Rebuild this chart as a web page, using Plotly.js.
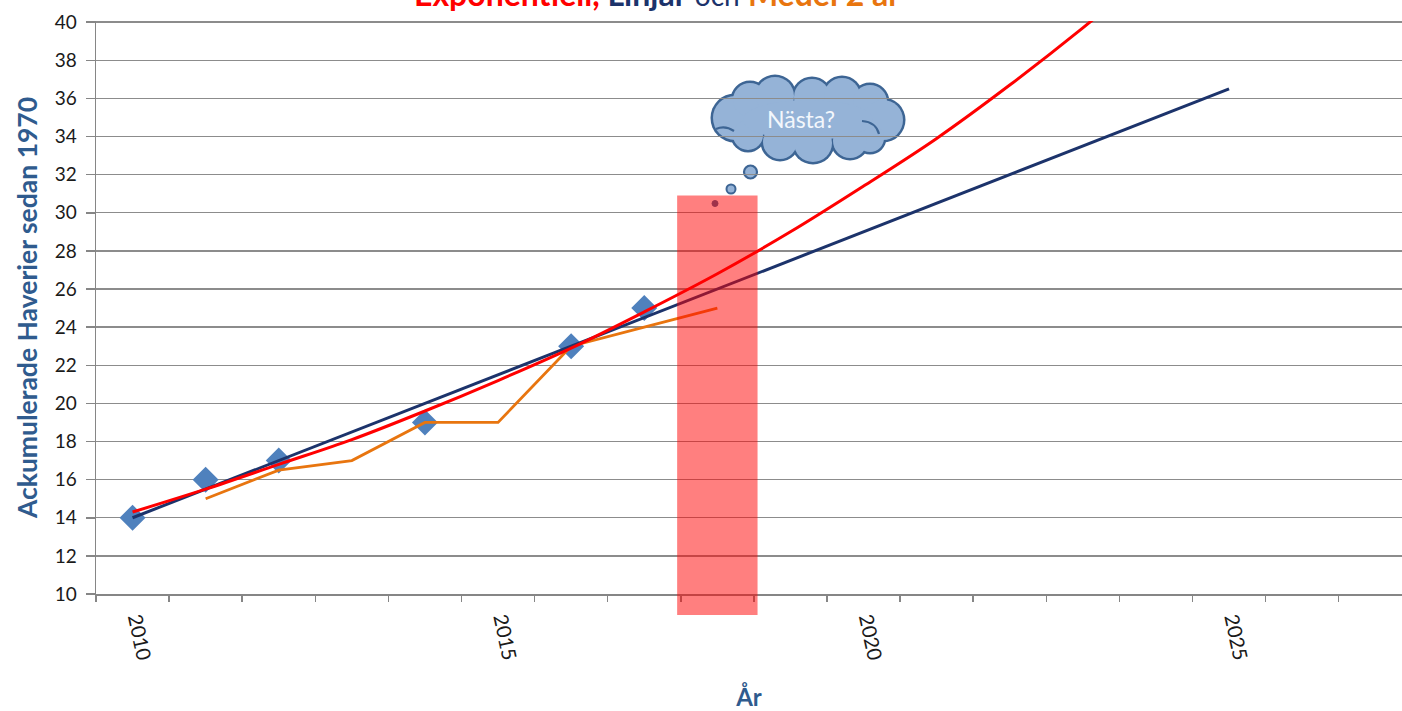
<!DOCTYPE html>
<html>
<head>
<meta charset="utf-8">
<script src="https://cdn.plot.ly/plotly-3.0.1.min.js"></script>
<style>
  html, body { margin: 0; padding: 0; background: #ffffff; }
  #chart { width: 1402px; height: 711px; }
</style>
</head>
<body>
<div id="chart"></div>
<script>
// ---- data ----
const OBS_YEARS = [2010, 2011, 2012, 2014, 2016, 2017];
const OBS_VALUES = [14, 16, 17, 19, 23, 25];

const AVG_YEARS = [2011, 2012, 2013, 2014, 2015, 2016, 2017, 2018];
const AVG_VALUES = [15, 16.5, 17, 19, 19, 23, 24, 25];

const LIN_YEARS = [2010, 2025];
const LIN_VALUES = [14.0, 36.5];

const EXP_YEARS = [2010, 2011, 2012, 2013, 2014, 2015, 2016, 2017, 2018, 2019, 2020, 2021, 2022, 2023, 2024];
const EXP_VALUES = [14.3, 15.5, 16.8, 18.1, 19.6, 21.2, 22.9, 24.8, 26.8, 29.0, 31.4, 33.9, 36.7, 39.7, 42.9];

const NEXT_YEAR = [2018];
const NEXT_TOP = [30.9];
const NEXT_BASE = [8.9];
const NEXT_WIDTH = 1.1;

const X_TICK_VALUES = [2010, 2015, 2020, 2025];
const X_TICK_LABELS = ['2010', '2015', '2020', '2025'];

const TITLE_PARTS = ['Exponentiell,', 'Linjär', 'och', 'Medel 2 år'];
const CLOUD_TEXT = 'Nästa?';
const Y_TITLE = 'Ackumulerade Haverier sedan 1970';
const X_TITLE = 'År';

// ---- geometry helpers (pixel -> axis units) for the decorative cloud ----
const M = { l: 96, r: 0, t: 21, b: 117 };
const W = 1402, H = 711;
const PLOT_W = W - M.l - M.r, PLOT_H = H - M.t - M.b;
const X0 = 2009.5, PX_PER_YEAR = 73.1;
const X1 = X0 + PLOT_W / PX_PER_YEAR;
const Y_MIN = 10, Y_MAX = 40.06;
function gx(px) { return X0 + (px - M.l) / PX_PER_YEAR; }
function gy(py) { return Y_MAX - (py - M.t) * (Y_MAX - Y_MIN) / PLOT_H; }
function paperY(v) { return (v - Y_MIN) / (Y_MAX - Y_MIN); }

const CLOUD_FILL = '#95B3D7';
const CLOUD_LINE = '#3D6594';

function circle(cx, cy, r, fill, lineColor, lineWidth) {
  return {
    type: 'circle', xref: 'x', yref: 'y', layer: 'below',
    x0: gx(cx - r), x1: gx(cx + r), y0: gy(cy + r), y1: gy(cy - r),
    fillcolor: fill,
    line: { color: lineColor || fill, width: lineWidth || 0 }
  };
}

const puffs = [
  [735, 118, 22], [750, 100, 17], [775, 96, 19], [812, 97, 18], [842, 96, 18],
  [870, 102, 17], [883, 120, 20], [870, 138, 14], [850, 141, 17], [813, 143, 19],
  [780, 142, 17], [748, 135, 15]
];

const shapes = [];
puffs.forEach(p => shapes.push(circle(p[0], p[1], p[2] + 2.5, CLOUD_LINE)));
puffs.forEach(p => shapes.push(circle(p[0], p[1], p[2], CLOUD_FILL)));
shapes.push({
  type: 'circle', xref: 'x', yref: 'y', layer: 'below',
  x0: gx(743), x1: gx(873), y0: gy(140), y1: gy(100),
  fillcolor: CLOUD_FILL, line: { width: 0 }
});
shapes.push({
  type: 'path', xref: 'x', yref: 'y', layer: 'below',
  path: `M ${gx(716)},${gy(129)} Q ${gx(725)},${gy(125)} ${gx(734)},${gy(131)}`,
  line: { color: CLOUD_LINE, width: 2.2 }
});
shapes.push({
  type: 'path', xref: 'x', yref: 'y', layer: 'below',
  path: `M ${gx(862)},${gy(121)} Q ${gx(876)},${gy(122)} ${gx(879)},${gy(134)}`,
  line: { color: CLOUD_LINE, width: 2.2 }
});
shapes.push(circle(750.5, 172, 6.5, CLOUD_FILL, CLOUD_LINE, 2.2));
shapes.push(circle(731, 189, 4.5, CLOUD_FILL, CLOUD_LINE, 2));
shapes.push(circle(715, 203.5, 3, CLOUD_LINE, CLOUD_LINE, 1));

// the highlighted "next year" bar: drawn from its data through the x scale,
// above the traces and allowed to reach below the x axis as in the reference
NEXT_YEAR.forEach((yr, i) => {
  shapes.push({
    type: 'rect', xref: 'x', yref: 'paper', layer: 'above',
    x0: yr - NEXT_WIDTH / 2, x1: yr + NEXT_WIDTH / 2,
    y0: paperY(NEXT_BASE[i]), y1: paperY(NEXT_TOP[i]),
    fillcolor: 'rgba(255,0,0,0.5)', line: { width: 0 }
  });
});

// minor tick positions at category boundaries
const minorTicks = [];
for (let v = X0; v <= X1 + 1e-9; v += 1) minorTicks.push(v);

const FONT = 'Lato, "Open Sans", "Liberation Sans", sans-serif';

const traces = [
  {
    type: 'scatter', mode: 'markers', x: OBS_YEARS, y: OBS_VALUES,
    marker: { symbol: 'diamond', size: 20, color: '#4F81BD', line: { width: 0 } },
    hoverinfo: 'skip'
  },
  {
    type: 'scatter', mode: 'lines', x: AVG_YEARS, y: AVG_VALUES,
    line: { color: '#E8750F', width: 2.8 }, hoverinfo: 'skip'
  },
  {
    type: 'scatter', mode: 'lines', x: LIN_YEARS, y: LIN_VALUES,
    line: { color: '#1C336B', width: 3 }, hoverinfo: 'skip'
  },
  {
    type: 'scatter', mode: 'lines', x: EXP_YEARS, y: EXP_VALUES,
    line: { color: '#FF0000', width: 3, shape: 'spline' }, hoverinfo: 'skip'
  }
];

const titleText =
  `<b><span style="color:#FF0000">${TITLE_PARTS[0]}</span> ` +
  `<span style="color:#1C336B">${TITLE_PARTS[1]}</span></b> ` +
  `<span style="color:#1C336B;font-size:28px">${TITLE_PARTS[2]}</span> ` +
  `<b><span style="color:#E8750F">${TITLE_PARTS[3]}</span></b>`;

const layout = {
  width: W, height: H,
  margin: M,
  paper_bgcolor: '#ffffff', plot_bgcolor: '#ffffff',
  showlegend: false,
  font: { family: FONT, color: '#1a1a1a' },
  xaxis: {
    range: [X0, X1],
    showline: true, linecolor: '#868686', linewidth: 2,
    showgrid: false, zeroline: false,
    tickmode: 'array', tickvals: X_TICK_VALUES, ticktext: X_TICK_LABELS,
    ticks: '', tickangle: 78, ticklabelstandoff: 4, ticklabelshift: 5,
    tickfont: { family: FONT, size: 20, color: '#1a1a1a' },
    minor: { tickmode: 'array', tickvals: minorTicks, ticks: 'outside', ticklen: 6, tickwidth: 1.5, tickcolor: '#868686', showgrid: false },
    title: { text: `<b>${X_TITLE}</b>`, font: { family: FONT, size: 24, color: '#2F5B8E' }, standoff: 28 }
  },
  yaxis: {
    range: [Y_MIN, Y_MAX],
    tickmode: 'linear', tick0: 10, dtick: 2,
    ticks: 'outside', ticklen: 9, tickwidth: 1.5, tickcolor: '#868686',
    ticklabelstandoff: 5,
    showline: true, linecolor: '#868686', linewidth: 1.5,
    showgrid: true, gridcolor: '#8C8C8C', gridwidth: 1.4,
    zeroline: false,
    tickfont: { family: FONT, size: 19, color: '#1a1a1a' },
    title: { text: `<b>${Y_TITLE}</b>`, font: { family: FONT, size: 26.5, color: '#2F5B8E' }, standoff: 9 }
  },
  shapes: shapes,
  annotations: [
    {
      xref: 'paper', yref: 'paper', x: (657 - M.l) / PLOT_W, y: 1 + 6 / PLOT_H,
      xanchor: 'center', yanchor: 'bottom', showarrow: false,
      text: titleText, font: { family: FONT, size: 32 }
    },
    {
      xref: 'x', yref: 'y', x: gx(801), y: gy(119), showarrow: false,
      text: CLOUD_TEXT, font: { family: FONT, size: 23, color: '#F3F7FC' }
    }
  ]
};

Plotly.newPlot('chart', traces, layout, { displayModeBar: false, staticPlot: true });
</script>
</body>
</html>
